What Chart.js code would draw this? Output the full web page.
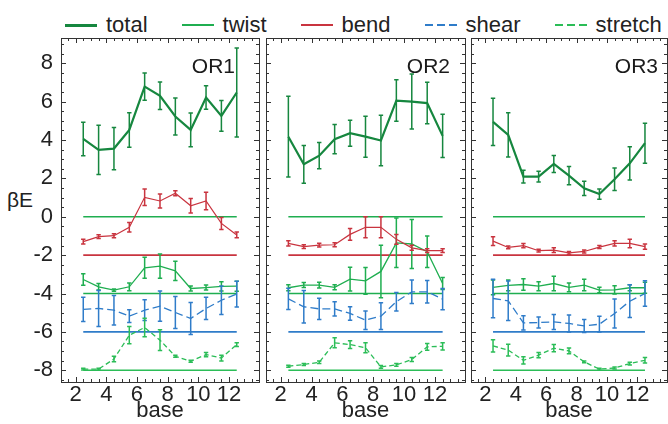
<!DOCTYPE html>
<html>
<head>
<meta charset="utf-8">
<script src="https://cdn.jsdelivr.net/npm/chart.js@4.4.1/dist/chart.umd.min.js"></script>
<style>
  body { margin: 0; width: 668px; height: 424px; background: #fff; position: relative; overflow: hidden;
         font-family: "Liberation Sans", Arial, sans-serif; color: #222; }
  canvas { position: absolute; top: 0; }
  #legend { position: absolute; left: 65px; top: 12px; display: flex; align-items: center; font-size: 22px; line-height: 26px; }
  #legend .item { display: flex; align-items: center; margin-right: 34px; }
  #legend .swatch { width: 32px; height: 2px; margin-right: 9px; }
  #ylab { position: absolute; left: 7px; top: 188px; font-size: 21px; line-height: 24px; }
</style>
</head>
<body>
<div id="legend"></div>
<div id="ylab">βE</div>
<canvas id="c1" width="262" height="424" style="left:0px"></canvas>
<canvas id="c2" width="206" height="424" style="left:262px"></canvas>
<canvas id="c3" width="200" height="424" style="left:468px"></canvas>
<script>
// ---- data ----
const seriesNames = ['total', 'twist', 'bend', 'shear', 'stretch'];
const refLevels = [0, -4, -2, -6, -8];          // zero line of each series
const bases = [2.5, 3.5, 4.5, 5.5, 6.5, 7.5, 8.5, 9.5, 10.5, 11.5, 12.5];
const xTicks = [2, 4, 6, 8, 10, 12];
const yTicks = [-8, -6, -4, -2, 0, 2, 4, 6, 8];

const or1Total      = [4.05, 3.48, 3.55, 4.52, 6.78, 6.30, 5.22, 4.52, 6.21, 5.25, 6.47];
const or1TotalErr   = [0.87, 1.28, 1.10, 0.90, 0.71, 0.72, 0.96, 0.88, 0.61, 0.80, 2.32];
const or1Twist      = [-3.27, -3.65, -3.82, -3.65, -2.66, -2.57, -2.82, -3.74, -3.69, -3.63, -3.62];
const or1TwistErr   = [0.30, 0.17, 0.06, 0.20, 0.55, 0.63, 0.50, 0.13, 0.13, 0.24, 0.26];
const or1Bend       = [-1.30, -1.04, -0.99, -0.55, 1.01, 0.82, 1.22, 0.57, 0.82, -0.35, -0.95];
const or1BendErr    = [0.12, 0.10, 0.10, 0.25, 0.43, 0.37, 0.13, 0.38, 0.46, 0.31, 0.15];
const or1Shear      = [-4.83, -4.78, -4.87, -5.18, -4.87, -4.66, -4.99, -5.30, -4.78, -4.35, -4.03];
const or1ShearErr   = [0.63, 0.94, 0.77, 0.33, 0.54, 0.79, 0.83, 0.83, 0.58, 0.74, 0.67];
const or1Stretch    = [-7.94, -7.94, -7.41, -6.17, -5.77, -6.43, -7.27, -7.53, -7.18, -7.36, -6.66];
const or1StretchErr = [0.04, 0.04, 0.14, 0.45, 0.48, 0.54, 0.05, 0.05, 0.11, 0.15, 0.10];

const or2Total      = [4.17, 2.73, 3.18, 4.04, 4.35, 4.17, 3.97, 6.05, 6.00, 5.92, 4.21];
const or2TotalErr   = [2.10, 0.98, 0.68, 0.76, 0.68, 1.07, 1.32, 1.08, 1.43, 1.08, 1.13];
const or2Twist      = [-3.70, -3.56, -3.56, -3.68, -3.25, -3.34, -2.85, -1.36, -1.42, -1.82, -3.48];
const or2TwistErr   = [0.15, 0.13, 0.15, 0.13, 0.62, 0.70, 1.37, 1.29, 1.28, 0.82, 0.31];
const or2Bend       = [-1.39, -1.56, -1.48, -1.46, -0.92, -0.55, -0.55, -1.18, -1.62, -1.77, -1.77];
const or2BendErr    = [0.14, 0.10, 0.10, 0.10, 0.30, 0.55, 0.55, 0.26, 0.13, 0.10, 0.10];
const or2Shear      = [-4.28, -4.69, -4.80, -4.80, -5.04, -5.39, -5.18, -4.43, -3.91, -3.91, -4.29];
const or2ShearErr   = [0.55, 0.85, 0.55, 0.37, 0.35, 0.48, 0.70, 0.48, 0.61, 0.59, 0.55];
const or2Stretch    = [-7.79, -7.70, -7.58, -6.57, -6.66, -6.83, -7.82, -7.72, -7.44, -6.78, -6.75];
const or2StretchErr = [0.05, 0.05, 0.07, 0.26, 0.20, 0.26, 0.07, 0.07, 0.10, 0.17, 0.19];

const or3Total      = [4.94, 4.26, 2.09, 2.09, 2.75, 2.14, 1.48, 1.18, 1.95, 2.78, 3.83];
const or3TotalErr   = [1.23, 1.15, 0.33, 0.28, 0.44, 0.48, 0.37, 0.27, 0.59, 0.87, 1.04];
const or3Twist      = [-3.68, -3.58, -3.53, -3.62, -3.48, -3.68, -3.56, -3.82, -3.81, -3.70, -3.70];
const or3TwistErr   = [0.39, 0.28, 0.30, 0.23, 0.38, 0.23, 0.30, 0.14, 0.22, 0.15, 0.29];
const or3Bend       = [-1.27, -1.60, -1.51, -1.77, -1.74, -1.88, -1.81, -1.58, -1.39, -1.39, -1.56];
const or3BendErr    = [0.23, 0.07, 0.11, 0.07, 0.13, 0.07, 0.08, 0.08, 0.14, 0.22, 0.14];
const or3Shear      = [-4.26, -4.38, -5.53, -5.51, -5.48, -5.56, -5.69, -5.60, -5.04, -4.40, -4.00];
const or3ShearErr   = [1.00, 1.03, 0.37, 0.29, 0.39, 0.44, 0.34, 0.41, 0.76, 0.85, 0.67];
const or3Stretch    = [-6.73, -6.95, -7.48, -7.21, -6.85, -6.99, -7.56, -7.94, -7.88, -7.65, -7.48];
const or3StretchErr = [0.32, 0.31, 0.19, 0.14, 0.19, 0.15, 0.05, 0.05, 0.05, 0.07, 0.14];

// ---- styles ----
const FONT = '"Liberation Sans", Arial, sans-serif';
const styles = {
  total:   { color: '#16873f', width: 2.2, dash: [] },
  twist:   { color: '#1fae50', width: 1.3, dash: [] },
  bend:    { color: '#c9343f', width: 1.2, dash: [] },
  shear:   { color: '#2f7cc9', width: 1.3, dash: [8, 4] },
  stretch: { color: '#2bbd57', width: 1.3, dash: [5, 3] }
};

const panels = [
  { id: 'c1', title: 'OR1', titleRight: 24, padLeft: 0, padRight: 3, showY: true,
    values: [or1Total, or1Twist, or1Bend, or1Shear, or1Stretch],
    errs: [or1TotalErr, or1TwistErr, or1BendErr, or1ShearErr, or1StretchErr] },
  { id: 'c2', title: 'OR2', titleRight: 15, padLeft: 4, padRight: 3, showY: false,
    values: [or2Total, or2Twist, or2Bend, or2Shear, or2Stretch],
    errs: [or2TotalErr, or2TwistErr, or2BendErr, or2ShearErr, or2StretchErr] },
  { id: 'c3', title: 'OR3', titleRight: 9, padLeft: 3, padRight: 1, showY: false,
    values: [or3Total, or3Twist, or3Bend, or3Shear, or3Stretch],
    errs: [or3TotalErr, or3TwistErr, or3BendErr, or3ShearErr, or3StretchErr] }
];

// legend
const legend = document.getElementById('legend');
seriesNames.forEach(name => {
  const st = styles[name];
  const item = document.createElement('div');
  item.className = 'item';
  const sw = document.createElement('div');
  sw.className = 'swatch';
  sw.style.height = (name === 'total' ? 3 : 2) + 'px';
  if (st.dash.length) {
    sw.style.background = `repeating-linear-gradient(to right, ${st.color} 0 8px, transparent 8px 12px)`;
  } else {
    sw.style.background = st.color;
  }
  const txt = document.createElement('span');
  txt.textContent = name;
  item.appendChild(sw);
  item.appendChild(txt);
  legend.appendChild(item);
});

// error bars drawn from each dataset's err array
const errorBars = {
  id: 'errorBars',
  afterDatasetsDraw(chart) {
    const { ctx, scales: { x, y } } = chart;
    chart.data.datasets.forEach(ds => {
      if (!ds.err) return;
      ctx.save();
      ctx.strokeStyle = ds.borderColor;
      ctx.lineWidth = 1.5;
      ctx.setLineDash([]);
      ds.data.forEach((p, i) => {
        const px = x.getPixelForValue(p.x);
        const y1 = y.getPixelForValue(p.y - ds.err[i]);
        const y2 = y.getPixelForValue(p.y + ds.err[i]);
        ctx.beginPath();
        ctx.moveTo(px, y1); ctx.lineTo(px, y2);
        ctx.moveTo(px - 2.2, y1); ctx.lineTo(px + 2.2, y1);
        ctx.moveTo(px - 2.2, y2); ctx.lineTo(px + 2.2, y2);
        ctx.stroke();
      });
      ctx.restore();
    });
  }
};

// box with inward ticks, and the panel title
const frame = {
  id: 'frame',
  afterDraw(chart, args, opts) {
    const { ctx, chartArea: a, scales: { x, y } } = chart;
    ctx.save();
    ctx.strokeStyle = '#333';
    ctx.lineWidth = 1;
    ctx.strokeRect(Math.round(a.left) + 0.5, Math.round(a.top) + 0.5,
                   Math.round(a.right - a.left), Math.round(a.bottom - a.top));
    ctx.beginPath();
    for (let v = Math.ceil(x.min * 2) / 2; v <= x.max; v += 0.5) {
      const px = Math.round(x.getPixelForValue(v)) + 0.5;
      const len = xTicks.includes(v) ? 5 : 3;
      ctx.moveTo(px, a.bottom); ctx.lineTo(px, a.bottom - len);
      ctx.moveTo(px, a.top); ctx.lineTo(px, a.top + len);
    }
    for (let v = Math.ceil(y.min * 2) / 2; v <= y.max; v += 0.5) {
      const py = Math.round(y.getPixelForValue(v)) + 0.5;
      const len = yTicks.includes(v) ? 5 : 3;
      ctx.moveTo(a.left, py); ctx.lineTo(a.left + len, py);
      ctx.moveTo(a.right, py); ctx.lineTo(a.right - len, py);
    }
    ctx.stroke();
    ctx.fillStyle = '#1a1a1a';
    ctx.font = '21px ' + FONT;
    ctx.textAlign = 'right';
    ctx.textBaseline = 'alphabetic';
    ctx.fillText(opts.title, a.right - opts.right, a.top + 35);
    ctx.restore();
  }
};

panels.forEach(p => {
  const datasets = [];
  seriesNames.forEach((name, k) => {
    const st = styles[name];
    datasets.push({
      data: [{ x: bases[0], y: refLevels[k] }, { x: bases[bases.length - 1], y: refLevels[k] }],
      borderColor: name === 'total' ? styles.twist.color : st.color,
      borderWidth: 1.6, pointRadius: 0, order: 10
    });
  });
  seriesNames.forEach((name, k) => {
    const st = styles[name];
    datasets.push({
      label: name,
      data: bases.map((b, i) => ({ x: b, y: p.values[k][i] })),
      err: p.errs[k],
      borderColor: st.color, borderWidth: st.width, borderDash: st.dash,
      pointRadius: 0, tension: 0, order: 5 - k
    });
  });

  new Chart(document.getElementById(p.id), {
    type: 'line',
    data: { datasets },
    options: {
      responsive: false, animation: false, devicePixelRatio: 1,
      layout: { padding: { top: 38, left: p.padLeft, right: p.padRight, bottom: 0 } },
      plugins: {
        legend: { display: false }, tooltip: { enabled: false },
        frame: { title: p.title, right: p.titleRight }
      },
      scales: {
        x: {
          type: 'linear', min: 1.05, max: 13.95,
          grid: { display: false, drawTicks: false }, border: { display: false },
          afterBuildTicks: s => { s.ticks = xTicks.map(v => ({ value: v })); },
          afterFit: s => { s.height = 42; },
          ticks: { font: { size: 22, family: FONT }, color: '#222', padding: 0, maxRotation: 0, autoSkip: false },
          title: { display: true, text: 'base', font: { size: 22, family: FONT }, color: '#222', padding: 0 }
        },
        y: {
          type: 'linear', min: -8.61, max: 9.31, display: p.showY,
          grid: { display: false, drawTicks: false }, border: { display: false },
          afterBuildTicks: s => { s.ticks = yTicks.map(v => ({ value: v })); },
          afterFit: s => { s.width = p.showY ? 61 : 0; },
          ticks: { font: { size: 22, family: FONT }, color: '#222', padding: 8, autoSkip: false }
        }
      }
    },
    plugins: [errorBars, frame]
  });
});
</script>
</body>
</html>
